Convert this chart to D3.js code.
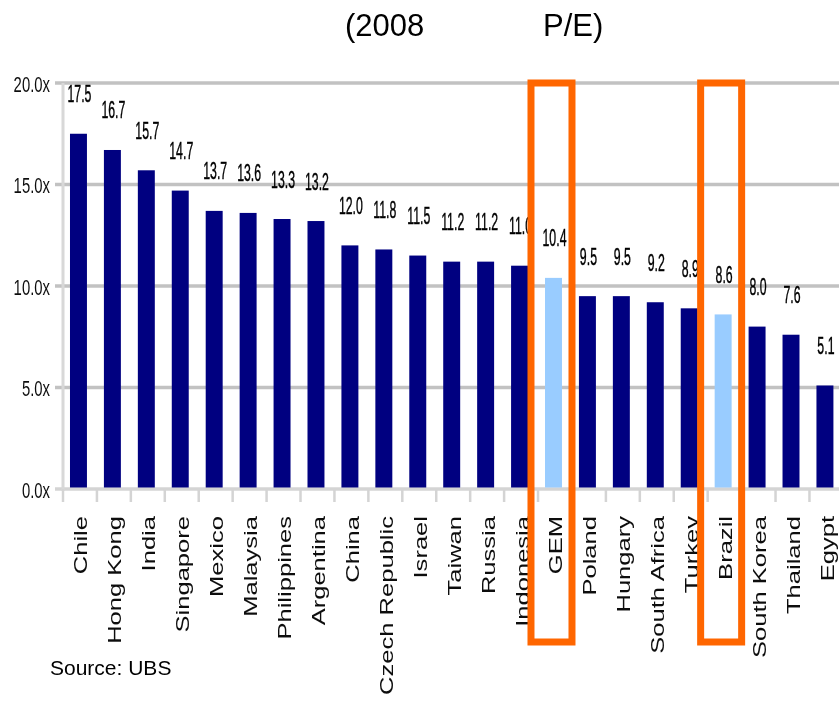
<!DOCTYPE html>
<html>
<head>
<meta charset="utf-8">
<script src="https://cdn.jsdelivr.net/npm/d3@7"></script>
<style>
  html, body { margin: 0; padding: 0; background: #fff; }
  svg { display: block; font-family: "Liberation Sans", Arial, sans-serif; }
</style>
</head>
<body>
<svg id="chart" width="839" height="701"></svg>
<script>
// Forward P/E multiples by market, 2008 estimates
const categories = ["Chile", "Hong Kong", "India", "Singapore", "Mexico", "Malaysia",
  "Philippines", "Argentina", "China", "Czech Republic", "Israel", "Taiwan", "Russia",
  "Indonesia", "GEM", "Poland", "Hungary", "South Africa", "Turkey", "Brazil",
  "South Korea", "Thailand", "Egypt"];
const peValues = [17.5, 16.7, 15.7, 14.7, 13.7, 13.6, 13.3, 13.2, 12.0, 11.8, 11.5, 11.2,
  11.2, 11.0, 10.4, 9.5, 9.5, 9.2, 8.9, 8.6, 8.0, 7.6, 5.1];
const highlighted = ["GEM", "Brazil"];
const yTicks = [0, 5, 10, 15, 20];
const titleParts = ["(2008", "P/E)"];
const sourceText = "Source: UBS";

const svg = d3.select("#chart");

const x = d3.scaleBand()
  .domain(categories)
  .range([61.5, 841.9])
  .paddingInner(0.5)
  .paddingOuter(0.25);

const y = d3.scaleLinear().domain([0, 20]).range([489, 83]);

const soft = svg.append("defs").append("filter").attr("id", "soft")
  .attr("x", "-5%").attr("y", "-5%").attr("width", "110%").attr("height", "110%");
soft.append("feGaussianBlur").attr("stdDeviation", 0.6);

const plot = svg.append("g").attr("filter", "url(#soft)");

// Horizontal gridlines with short tick stubs on the left
plot.append("g").selectAll("line").data(yTicks).join("line")
  .attr("x1", 55).attr("x2", 839)
  .attr("y1", d => y(d)).attr("y2", d => y(d))
  .attr("stroke", d => d === 0 ? "#d4d4d4" : "#c2c2c2")
  .attr("stroke-width", 3.5);

// Vertical value axis
plot.append("line")
  .attr("x1", 63).attr("x2", 63)
  .attr("y1", y(20)).attr("y2", y(0) + 2)
  .attr("stroke", "#d8d8d8").attr("stroke-width", 3);

// Category tick marks at band boundaries
const step = x.step();
const bounds = d3.range(categories.length).map(i => x(categories[i]) + x.bandwidth() / 2 - step / 2);
plot.append("g").selectAll("line").data(bounds).join("line")
  .attr("x1", d => d + 1.5).attr("x2", d => d + 1.5)
  .attr("y1", y(0)).attr("y2", y(0) + 13)
  .attr("stroke", "#d4d4d4").attr("stroke-width", 2.5);

// Y tick labels
plot.append("g").selectAll("text").data(yTicks).join("text")
  .attr("transform", d => `translate(50,${y(d) + 1}) scale(0.93,1.35)`)
  .attr("text-anchor", "end")
  .attr("dy", "0.35em")
  .attr("font-size", 16)
  .attr("fill", "#111")
  .text(d => d.toFixed(1) + "x");

// Bars
plot.append("g").selectAll("rect").data(categories).join("rect")
  .attr("x", d => x(d))
  .attr("width", x.bandwidth())
  .attr("y", (d, i) => y(peValues[i]))
  .attr("height", (d, i) => y(0) - 1.5 - y(peValues[i]))
  .attr("fill", d => highlighted.includes(d) ? "#99ccff" : "#000080");

// Value labels above the bars
plot.append("g").selectAll("text").data(categories).join("text")
  .attr("transform", (d, i) => `translate(${x(d) + x.bandwidth() / 2 + 1},${y(peValues[i]) - 31.5}) scale(0.77,1.45)`)
  .attr("text-anchor", "middle")
  .attr("font-size", 16)
  .attr("fill", "#000")
  .attr("stroke", "#000")
  .attr("stroke-width", 0.3)
  .text((d, i) => peValues[i].toFixed(1));

// Rotated category labels
plot.append("g").selectAll("text").data(categories).join("text")
  .attr("transform", d => `translate(${x(d) + x.bandwidth() / 2},516) rotate(-90) scale(1.42,1)`)
  .attr("text-anchor", "end")
  .attr("dy", "0.5em")
  .attr("font-size", 18)
  .attr("fill", "#111")
  .text(d => d);

// Orange frames around the highlighted markets
svg.append("g").selectAll("rect").data(highlighted).join("rect")
  .attr("x", d => x(d) + x.bandwidth() / 2 - 22.5)
  .attr("width", 41)
  .attr("y", y(20))
  .attr("height", 642 - y(20))
  .attr("fill", "none")
  .attr("stroke", "#ff6600")
  .attr("stroke-width", 7);

// Title fragments
svg.append("text").attr("x", 345).attr("y", 36).attr("font-size", 31).attr("fill", "#000")
  .text(titleParts[0]);
svg.append("text").attr("x", 543).attr("y", 36).attr("font-size", 31).attr("fill", "#000")
  .text(titleParts[1]);

// Source note
svg.append("text").attr("x", 50).attr("y", 675).attr("font-size", 21).attr("fill", "#000")
  .text(sourceText);
</script>
</body>
</html>
